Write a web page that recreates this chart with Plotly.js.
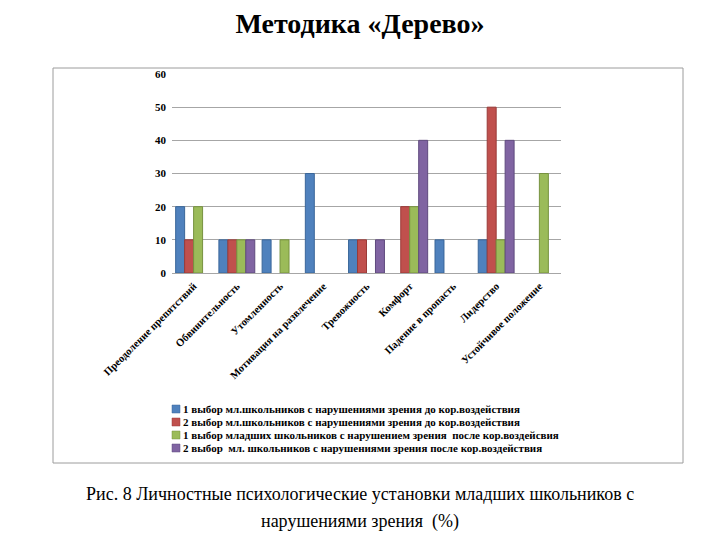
<!DOCTYPE html>
<html>
<head>
<meta charset="utf-8">
<script src="https://cdn.plot.ly/plotly-3.0.1.min.js"></script>
<style>html,body{margin:0;padding:0;background:#fff;}#chart{width:720px;height:540px;}</style>
</head>
<body>
<div id="chart"></div>
<script>
const categories = ["Преодоление препятствий", "Обвинительность", "Утомленность", "Мотивация на развлечение", "Тревожность", "Комфорт", "Падение в пропасть", "Лидерство", "Устойчивое положение"];
const seriesNames = [
  "1 выбор мл.школьников с нарушениями зрения до кор.воздействия",
  "2 выбор мл.школьников с нарушениями зрения до кор.воздействия",
  "1 выбор младших школьников с нарушением зрения  после кор.воздейсвия",
  "2 выбор  мл. школьников с нарушениями зрения после кор.воздействия"
];
const choice1Before = [20, 10, 10, 30, 10, 0, 10, 10, 0];
const choice2Before = [10, 10, 0, 0, 10, 20, 0, 50, 0];
const choice1After  = [20, 10, 10, 0, 0, 20, 0, 10, 30];
const choice2After  = [0, 10, 0, 0, 10, 40, 0, 40, 0];
const yTicks = [0, 10, 20, 30, 40, 50, 60];
const captionLines = ["Рис. 8 Личностные психологические установки младших школьников с", "нарушениями зрения  (%)"];

const fills = ["#4F81BD", "#C0504D", "#9BBB59", "#8064A2"];
const edges = ["#3A6699", "#9A3B38", "#77923F", "#5F4A7E"];
const seriesValues = [choice1Before, choice2Before, choice1After, choice2After];

const serif = "Liberation Serif";

const traces = seriesValues.map((vals, i) => ({
  type: "bar",
  name: seriesNames[i],
  x: categories,
  y: vals,
  marker: {color: fills[i], line: {color: edges[i], width: vals.map(v => v === 0 ? 0 : 1)}},
  showlegend: false,
  hoverinfo: "x+y"
}));

// plot area in pixels: x 172..561, y 74..273
const L = 172, R = 561, T = 74, B = 273;
const W = R - L, H = B - T;
const px = x => (x - L) / W;
const py = y => (B - y) / H;

const shapes = [
  {type: "rect", xref: "paper", yref: "paper", x0: px(53), x1: px(683), y0: py(463), y1: py(68),
   line: {color: "#9C9C9C", width: 1}, fillcolor: "rgba(0,0,0,0)", layer: "below"}
];
const annotations = [];
const captionRows = [494, 521];
captionLines.forEach((t, i) => annotations.push({xref: "paper", yref: "paper", x: px(360), y: py(captionRows[i]),
  xanchor: "center", yanchor: "middle", text: t, showarrow: false, font: {family: serif, size: 18, color: "#000"}}));

const legendRows = [409, 422, 435, 448];
seriesNames.forEach((name, i) => {
  const yc = legendRows[i];
  shapes.push({type: "rect", xref: "paper", yref: "paper", x0: px(172), x1: px(180), y0: py(yc + 4), y1: py(yc - 4),
    fillcolor: fills[i], line: {color: edges[i], width: 0.5}});
  annotations.push({xref: "paper", yref: "paper", x: px(181), y: py(yc), xanchor: "left", yanchor: "middle",
    text: "<b>" + name + "</b>", showarrow: false, font: {family: serif, size: 11, color: "#000"}});
});

const layout = {
  width: 720, height: 540,
  margin: {l: L, r: 720 - R, t: T, b: 540 - B, pad: 0},
  paper_bgcolor: "#fff", plot_bgcolor: "#fff",
  font: {family: serif},
  title: {text: "<b>Методика «Дерево»</b>", font: {family: serif, size: 28, color: "#000"},
          x: px(360), xanchor: "center", y: 1 - 23 / 540, yanchor: "middle", xref: "paper"},
  barmode: "group", bargap: 0.17, bargroupgap: 0,
  xaxis: {type: "category", tickangle: -45, tickfont: {family: serif, size: 10.6, color: "#000", weight: "bold"},
          showgrid: false, showline: false, ticks: "", zeroline: false, ticklabelstandoff: 4},
  yaxis: {range: [0, 60], tickvals: yTicks, ticktext: yTicks.map(String),
          tickfont: {family: serif, size: 11, color: "#000", weight: "bold"},
          showgrid: true, gridcolor: "#A6A6A6", gridwidth: 1, zeroline: true, zerolinecolor: "#A6A6A6",
          showline: false, ticks: "", ticklabelstandoff: 5},
  shapes: shapes, annotations: annotations, showlegend: false
};

Plotly.newPlot("chart", traces, layout, {displayModeBar: false, staticPlot: true});
</script>
</body>
</html>
